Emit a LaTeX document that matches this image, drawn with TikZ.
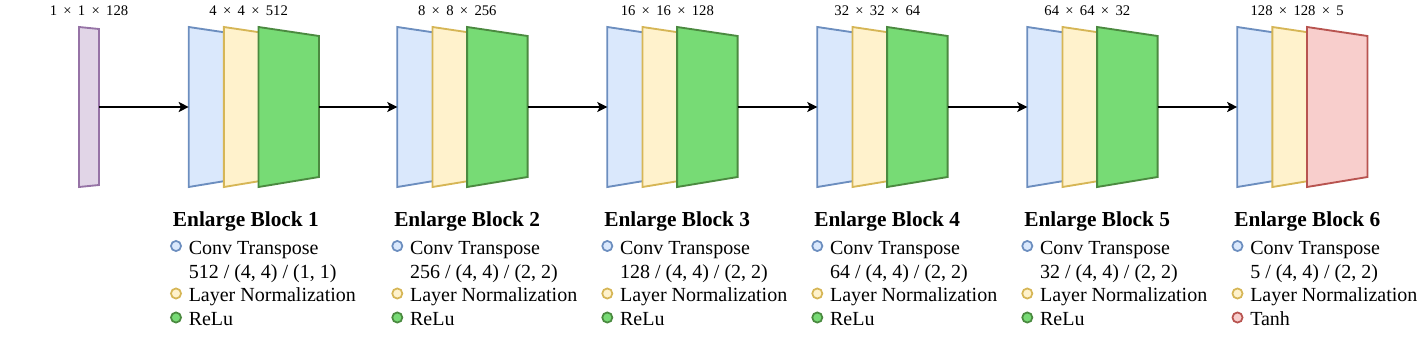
\documentclass[tikz,border=0pt]{standalone}
\usepackage{fontspec}
\setmainfont{Liberation Serif}
\usetikzlibrary{arrows.meta}
\definecolor{convfill}{HTML}{DAE8FC}
\definecolor{convline}{HTML}{6C8EBF}
\definecolor{normfill}{HTML}{FFF2CC}
\definecolor{normline}{HTML}{D6B656}
\definecolor{relufill}{HTML}{77DB75}
\definecolor{reluline}{HTML}{4B8A40}
\definecolor{tanhfill}{HTML}{F8CECC}
\definecolor{tanhline}{HTML}{B85450}
\definecolor{inpfill}{HTML}{E1D5E7}
\definecolor{inpline}{HTML}{9673A6}
\newcommand{\by}{\hspace{0.43em}×\hspace{0.43em}}
\newcommand{\slab}[2]{\filldraw[slab,fill=#2fill,draw=#2line] (#1,27) -- (#1+60.5,36) -- (#1+60.5,177) -- (#1,187) -- cycle;}

\begin{document}
\begin{tikzpicture}[x=0.75pt,y=-0.75pt,
  slab/.style={line width=1.4pt,line join=miter},
  flow/.style={line width=1.4pt,-{Stealth[length=7.5pt,width=7.5pt,inset=1.8pt]}},
  dims/.style={inner sep=0pt,anchor=base,font=\fontsize{11}{13}\selectfont},
  title/.style={inner sep=0pt,anchor=base west,font=\fontsize{16}{19}\selectfont\bfseries},
  item/.style={inner sep=0pt,anchor=base west,font=\fontsize{15}{18}\selectfont},
  dot/.style={circle,line width=1.3pt,minimum size=7.6pt,inner sep=0pt}]
  \useasboundingbox (0,0) rectangle (1422,339);
  % input vector
  \filldraw[slab,fill=inpfill,draw=inpline] (79,27) -- (99,29) -- (99,185) -- (79,187) -- cycle;
  \node[dims] (inp-dims) at (89,16) {1\by1\by128};
  \coordinate (inp-out) at (99,107);
  % enlarge blocks
  \foreach \k/\bx/\tx/\size/\conv/\act/\actname in {
      1/188.7/176/{4\by4\by512}/{512 / (4, 4) / (1, 1)}/relu/ReLu,
      2/397.3/397.3/{8\by8\by256}/{256 / (4, 4) / (2, 2)}/relu/ReLu,
      3/607.3/607.3/{16\by16\by128}/{128 / (4, 4) / (2, 2)}/relu/ReLu,
      4/817.3/817.3/{32\by32\by64}/{64 / (4, 4) / (2, 2)}/relu/ReLu,
      5/1027.3/1027.3/{64\by64\by32}/{32 / (4, 4) / (2, 2)}/relu/ReLu,
      6/1237.2/1237.5/{128\by128\by5}/{5 / (4, 4) / (2, 2)}/tanh/Tanh} {
    \slab{\bx}{conv}
    \slab{\bx+35.2}{norm}
    \slab{\bx+69.8}{\act}
    \coordinate (b\k-in) at (\bx,107);
    \coordinate (b\k-out) at (\bx+130.3,107);
    \node[dims] (b\k-dims) at (\bx+60,16) {\size};
    \node[title] (b\k-title) at (\tx-3.3,226) {Enlarge Block \k};
    \node[dot,fill=convfill,draw=convline] (b\k-c1) at (\tx,246) {};
    \node[item] (b\k-t1) at (\tx+12.5,254) {Conv Transpose};
    \node[item] (b\k-t2) at (\tx+12.5,278) {\conv};
    \node[dot,fill=normfill,draw=normline] (b\k-c2) at (\tx,293.5) {};
    \node[item] (b\k-t3) at (\tx+12.5,301.5) {Layer Normalization};
    \node[dot,fill=\act fill,draw=\act line] (b\k-c3) at (\tx,317.5) {};
    \node[item] (b\k-t4) at (\tx+12.5,325.5) {\actname};
  }
  % connectors
  \draw[flow] (inp-out) -- (b1-in);
  \foreach \k [evaluate=\k as \j using int(\k+1)] in {1,...,5}
    \draw[flow] (b\k-out) -- (b\j-in);
\end{tikzpicture}
\end{document}
